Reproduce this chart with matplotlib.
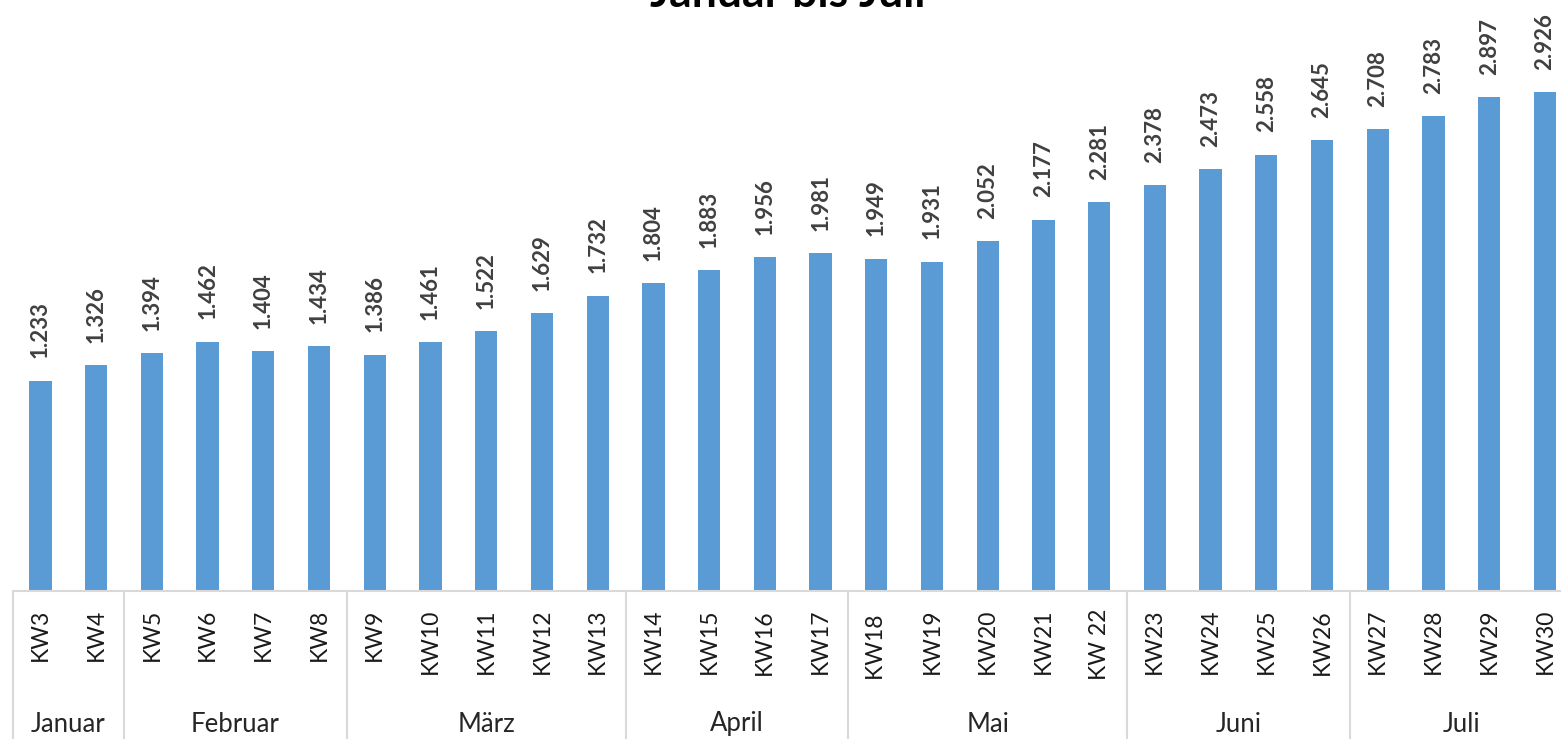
import matplotlib.pyplot as plt

# data
weeks = ["KW3", "KW4", "KW5", "KW6", "KW7", "KW8", "KW9", "KW10", "KW11", "KW12",
         "KW13", "KW14", "KW15", "KW16", "KW17", "KW18 ", "KW19", "KW20", "KW21", "KW 22",
         "KW23", "KW24", "KW25", "KW26", "KW27", "KW28", "KW29", "KW30"]
values = [1.233, 1.326, 1.394, 1.462, 1.404, 1.434, 1.386, 1.461, 1.522, 1.629,
          1.732, 1.804, 1.883, 1.956, 1.981, 1.949, 1.931, 2.052, 2.177, 2.281,
          2.378, 2.473, 2.558, 2.645, 2.708, 2.783, 2.897, 2.926]
months = ["Januar", "Februar", "März", "April", "Mai", "Juni", "Juli"]
weeks_per_month = [2, 4, 5, 4, 5, 4, 4]

W, H = 1561, 739
plt.rcParams['font.family'] = ['Lato', 'DejaVu Sans']

fig = plt.figure(figsize=(W / 100, H / 100), dpi=100)
# axes runs a bit past the right edge, like the cropped original
ax = fig.add_axes([12.6 / W, (H - 591) / H, 28 * 55.72 / W, 591 / H])

x = list(range(len(values)))
ax.bar(x, values, width=0.40, color="#5B9BD5")
ax.set_xlim(-0.5, len(values) - 0.5)
ax.set_ylim(0, 591 / 170.6)

for s in ["top", "left", "right"]:
    ax.spines[s].set_visible(False)
ax.spines["bottom"].set_color("#D9D9D9")
ax.spines["bottom"].set_linewidth(1.5)
ax.set_xticks([])
ax.set_yticks([])

# value labels
for i, v in enumerate(values):
    ax.annotate("{:.3f}".format(v), (i, v), xytext=(0, 16), textcoords="offset points",
                rotation=90, ha="center", va="bottom", fontsize=16,
                fontweight="bold", color="#404040")

trans = ax.get_xaxis_transform()

# week labels
for i, w in enumerate(weeks):
    ax.text(i, -18 / 591, w, transform=trans, rotation=90, ha="center", va="top",
            fontsize=16.5, color="#1a1a1a")

# month labels and separators
start = 0
bounds = [-0.5]
for m, n in zip(months, weeks_per_month):
    center = start + (n - 1) / 2
    ax.text(center, -133 / 591, m, transform=trans, ha="center", va="center",
            fontsize=18.5, color="#262626")
    start += n
    bounds.append(start - 0.5)

for b in bounds:
    ax.plot([b, b], [0, -160 / 591], transform=trans, color="#D9D9D9",
            linewidth=1.5, clip_on=False)

# title, mostly cut off at the top edge (as in the original)
fig.text(788 / W, 1 - 7 / H, "Januar bis Juli", ha="center", va="baseline",
         fontsize=32, fontweight="bold", color="#000000")

fig.savefig("out.png", dpi=100)
